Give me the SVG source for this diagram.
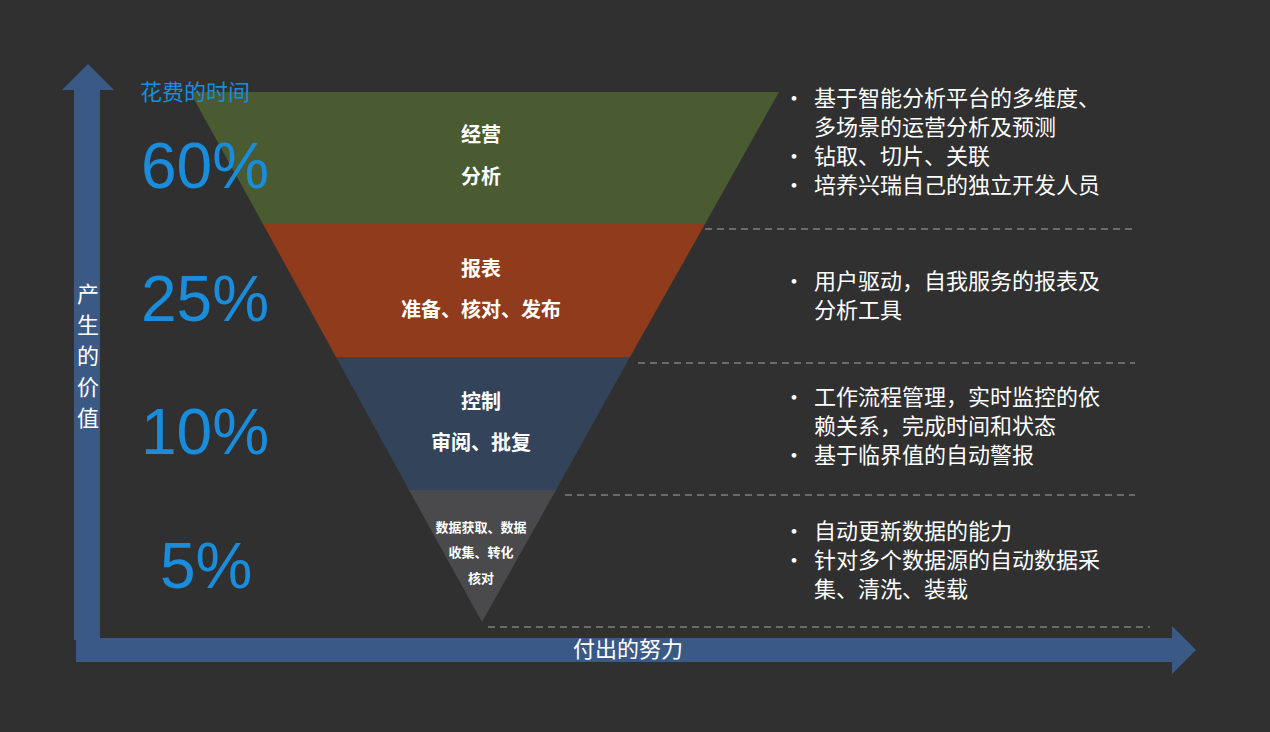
<svg xmlns="http://www.w3.org/2000/svg" width="1270" height="732" viewBox="0 0 1270 732">
<style>
.pct{font-family:"Liberation Sans",Arial,sans-serif;font-size:64px;fill:#1a8cdc}
.cn{font-family:"Noto Sans CJK SC",sans-serif;fill:#fff}
.lbl{font-size:20px;font-weight:bold;text-anchor:middle}
.bul{font-size:22px}
.dash{stroke:#6a6a6a;stroke-width:2;stroke-dasharray:7,5;fill:none}
</style>
<rect width="1270" height="732" fill="#303030"/>
<g id="axes" fill="#3a5a85">
<polygon points="74,640 74,90 62,90 88,64 114,90 100,90 100,640"/>
<polygon points="76,638 1172,638 1172,626 1196,650 1172,674 1172,662 76,662"/>
</g>
<g id="connectors">
<line class="dash" x1="705" y1="229" x2="1135" y2="229"/>
<line class="dash" x1="638" y1="363" x2="1135" y2="363"/>
<line class="dash" x1="565" y1="495" x2="1135" y2="495"/>
<line class="dash" x1="488" y1="627" x2="1150" y2="627"/>
</g>
<g id="band1"><polygon points="190,92 779,92 705,224 263,224" fill="#4a5a31"/>
<text class="cn lbl" x="481" y="142">经营</text><text class="cn lbl" x="481" y="184">分析</text></g>
<g id="band2"><polygon points="263,224 705,224 630,357 336,357" fill="#8f3b1c"/>
<text class="cn lbl" x="481" y="276">报表</text><text class="cn lbl" x="481" y="317">准备、核对、发布</text></g>
<g id="band3"><polygon points="336,357 630,357 556,490 409,490" fill="#334359"/>
<text class="cn lbl" x="481" y="409">控制</text><text class="cn lbl" x="481" y="450">审阅、批复</text></g>
<g id="band4"><polygon points="409,490 556,490 482,622" fill="#4a4a4c"/>
<g class="cn" font-size="13" font-weight="bold" text-anchor="middle"><text x="481" y="532">数据获取、数据</text><text x="481" y="557">收集、转化</text><text x="481" y="583">核对</text></g></g>
<text class="cn" x="140" y="100" font-size="22" fill="#1a8cdc" style="fill:#1a8cdc">花费的时间</text>
<text class="pct" x="141" y="188">60%</text>
<text class="pct" x="141" y="321">25%</text>
<text class="pct" x="141" y="454">10%</text>
<text class="pct" x="160" y="588">5%</text>
<g class="cn" font-size="22" text-anchor="middle"><text x="88" y="302">产</text><text x="88" y="333">生</text><text x="88" y="364">的</text><text x="88" y="395">价</text><text x="88" y="426">值</text></g>
<text class="cn" x="628" y="657" font-size="22" text-anchor="middle">付出的努力</text>
<g class="cn bul">
<text x="783" y="106">•</text><text x="814" y="106">基于智能分析平台的多维度、</text><text x="814" y="135">多场景的运营分析及预测</text>
<text x="783" y="164">•</text><text x="814" y="164">钻取、切片、关联</text>
<text x="783" y="193">•</text><text x="814" y="193">培养兴瑞自己的独立开发人员</text>
<text x="783" y="289">•</text><text x="814" y="289">用户驱动，自我服务的报表及</text><text x="814" y="318">分析工具</text>
<text x="783" y="405">•</text><text x="814" y="405">工作流程管理，实时监控的依</text><text x="814" y="434">赖关系，完成时间和状态</text>
<text x="783" y="463">•</text><text x="814" y="463">基于临界值的自动警报</text>
<text x="783" y="539">•</text><text x="814" y="539">自动更新数据的能力</text>
<text x="783" y="568">•</text><text x="814" y="568">针对多个数据源的自动数据采</text><text x="814" y="597">集、清洗、装载</text>
</g>
</svg>
